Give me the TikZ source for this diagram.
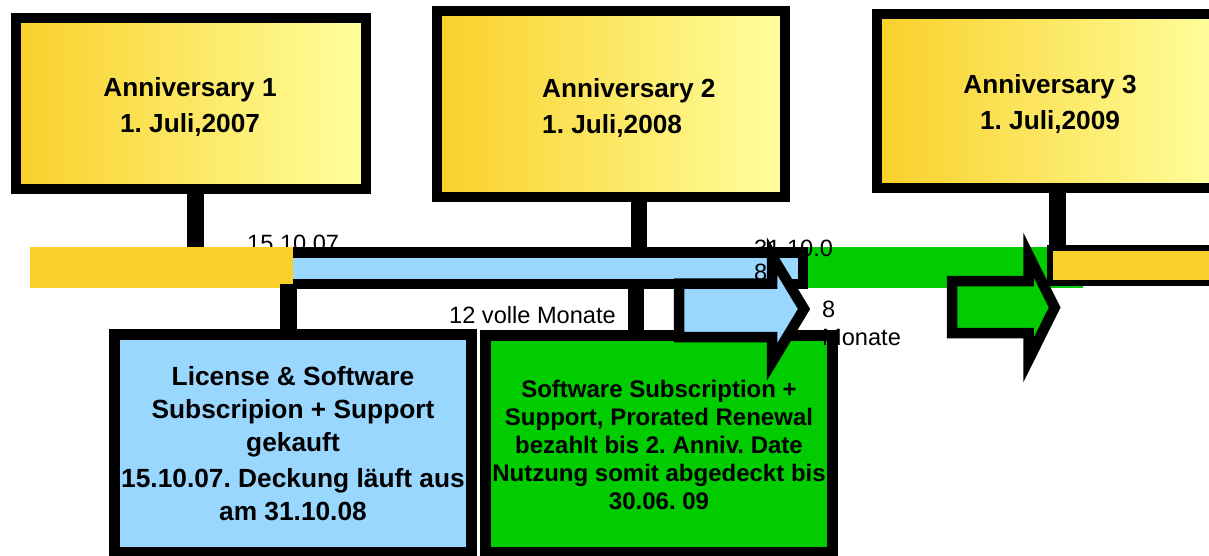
\documentclass[tikz,border=0pt]{standalone}
\usepackage{fontspec}
\setmainfont{Liberation Sans}
\frenchspacing
\definecolor{gold}{HTML}{F9D02A}
\definecolor{paleyellow}{HTML}{FFFF9E}
\definecolor{skyblue}{HTML}{99D7FF}
\definecolor{leafgreen}{HTML}{00CC00}
\begin{document}
\begin{tikzpicture}[x=1pt,y=-1pt,
  annbox/.style={draw=black, line width=10pt, left color=gold, right color=paleyellow, inner sep=0pt},
  infobox/.style={draw=black, line width=11pt, inner sep=0pt},
  stemline/.style={draw=black, line width=16.5pt},
  anntext/.style={font=\bfseries\fontsize{26.2}{35.5}\selectfont, inner sep=0pt},
  bluetext/.style={font=\bfseries\fontsize{26.3}{33}\selectfont, inner sep=0pt, align=center},
  greentext/.style={font=\bfseries\fontsize{24}{28}\selectfont, inner sep=0pt, align=center},
  lbl/.style={font=\fontsize{23.6}{24}\selectfont, inner sep=0pt, align=left},
  arrowline/.style={draw=black, line width=10.5pt, line join=miter}]
\useasboundingbox (0,0) rectangle (1209,555);
\clip (0,0) rectangle (1209,555);
% anniversary boxes
\node[annbox, minimum width=350pt, minimum height=171pt] (a1) at (191,103.5) {};
\node[annbox, minimum width=348pt, minimum height=186pt] (a2) at (611,104) {};
\node[annbox, minimum width=346pt, minimum height=174pt] (a3) at (1050,101) {};
\node[anntext, align=center, anchor=base] (a1t) at (190,132) {Anniversary 1\\1. Juli,2007};
\node[anntext, align=left, anchor=base west] (a2t) at (542,133) {Anniversary 2\\1. Juli,2008};
\node[anntext, align=center, anchor=base] (a3t) at (1050,129) {Anniversary 3\\1. Juli,2009};
% stems to the time bar
\coordinate (s1) at (195.5,255);
\coordinate (s2) at (639,255);
\coordinate (s3) at (1057.5,250);
\draw[stemline] (s1 |- a1.south) -- (s1);
\draw[stemline] (s2 |- a2.south) -- (s2);
\draw[stemline] (s3 |- a3.south) -- (s3);
% time bar
\fill[leafgreen] (293,246.5) rectangle (1083,288);
\draw[draw=black, line width=10.5pt, fill=skyblue] (288,252.3) rectangle (802.8,284);
\node[lbl, anchor=base west] (d1) at (247,251) {15.10.07};
\fill[gold] (30,247) rectangle (293,288);
\draw[draw=black, line width=5.5pt, fill=gold] (1050,247.8) rectangle (1240,283.2);
% lower boxes
\node[infobox, fill=skyblue, minimum width=357pt, minimum height=217.5pt] (b1) at (293,443.25) {};
\node[infobox, fill=leafgreen, minimum width=347pt, minimum height=216.5pt] (b2) at (659,443.75) {};
\coordinate (l1) at (288.5,284);
\coordinate (l2) at (636,284);
\draw[stemline] (l1) -- (l1 |- b1.north);
\draw[stemline] (l2) -- (l2 |- b2.north);
\node[bluetext, anchor=base] (b1t) at (293,520) {License \& Software\\Subscripion + Support\\gekauft\\[3pt]15.10.07. Deckung läuft aus\\am 31.10.08};
\node[greentext, anchor=base] (b2t) at (659,509) {Software Subscription +\\Support, Prorated Renewal\\bezahlt bis 2. Anniv. Date\\Nutzung somit abgedeckt bis\\30.06. 09};
% labels
\node[lbl, anchor=base west] (m12) at (449,323) {12 volle Monate};
\node[lbl, anchor=base west] (d2) at (754,280) {31.10.0\\8};
\node[lbl, font=\fontsize{23.6}{28}\selectfont, anchor=base west] (m8) at (822,345) {8\\Monate};
% block arrows
\draw[arrowline, fill=skyblue] (679,283.5) -- (772,283.5) -- (772,256) -- (804,309) -- (772,362) -- (772,337) -- (679,337) -- cycle;
\draw[arrowline, fill=leafgreen] (952,281) -- (1028.5,281) -- (1028.5,255) -- (1054.7,307.5) -- (1028.5,360) -- (1028.5,333) -- (952,333) -- cycle;
\end{tikzpicture}
\end{document}
